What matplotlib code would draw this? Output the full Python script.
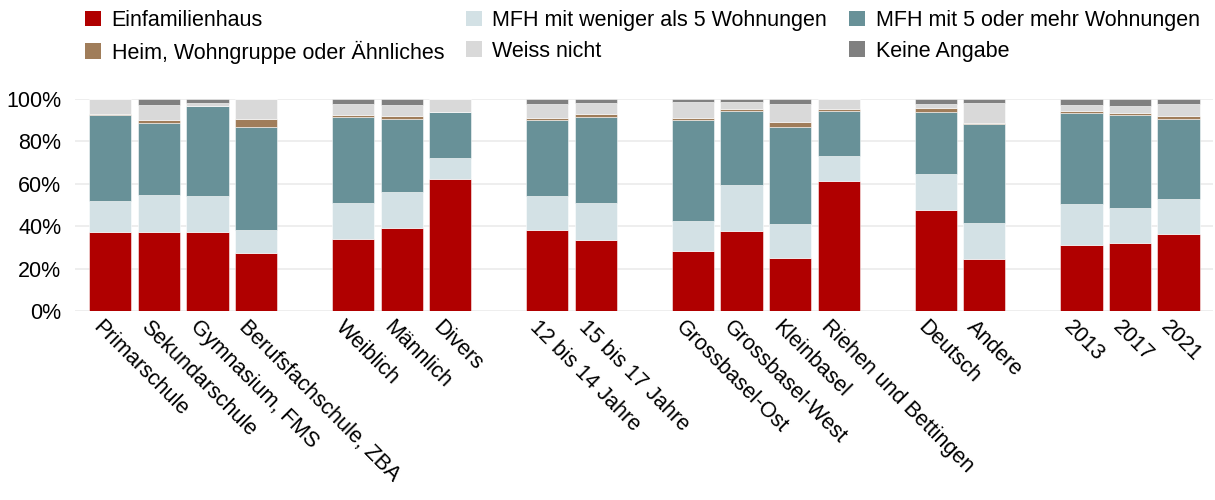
import numpy as np
import matplotlib
matplotlib.use('Agg')
import matplotlib.pyplot as plt
import matplotlib.transforms as mtransforms
from matplotlib.patches import Patch

plt.rcParams['font.family'] = ['Liberation Sans', 'DejaVu Sans']

categories = ['Primarschule', 'Sekundarschule', 'Gymnasium, FMS', 'Berufsfachschule, ZBA',
              'Weiblich', 'Männlich', 'Divers',
              '12 bis 14 Jahre', '15 bis 17 Jahre',
              'Grossbasel-Ost', 'Grossbasel-West', 'Kleinbasel', 'Riehen und Bettingen',
              'Deutsch', 'Andere',
              '2013', '2017', '2021']
# slot position of each bar (empty slots separate the groups)
slots = [0, 1, 2, 3, 5, 6, 7, 9, 10, 12, 13, 14, 15, 17, 18, 20, 21, 22]

efh = [37.1, 37.2, 37.2, 27.4, 34.1, 39.1, 62.3, 38.3, 33.4, 28.4, 37.9, 25.1, 61.5, 47.6, 24.4, 30.9, 32.3, 36.1]
mfh_small = [14.8, 17.5, 17.1, 10.8, 16.8, 17.1, 10.1, 16.0, 17.4, 14.0, 21.7, 15.9, 11.7, 17.1, 16.9, 19.6, 16.3, 16.7]
mfh_big = [40.4, 34.1, 42.2, 48.7, 40.6, 34.2, 21.6, 35.8, 40.7, 47.5, 34.6, 45.9, 21.0, 29.0, 46.7, 42.9, 43.8, 37.9]
heim = [0.8, 1.4, 0.0, 3.8, 0.9, 1.7, 0.0, 0.9, 1.6, 1.3, 1.1, 2.2, 1.1, 2.0, 0.8, 0.8, 0.8, 1.4]
weiss = [6.9, 6.8, 1.8, 9.3, 5.2, 5.2, 6.0, 6.5, 5.0, 7.2, 3.1, 8.4, 4.7, 2.1, 9.5, 3.1, 3.6, 5.5]
keine = [0.0, 3.0, 1.7, 0.0, 2.4, 2.7, 0.0, 2.5, 1.9, 1.6, 1.6, 2.5, 0.0, 2.2, 1.7, 2.7, 3.2, 2.4]

series = [('Einfamilienhaus', efh, '#B00000'),
          ('MFH mit weniger als 5 Wohnungen', mfh_small, '#D3E1E5'),
          ('MFH mit 5 oder mehr Wohnungen', mfh_big, '#689198'),
          ('Heim, Wohngruppe oder Ähnliches', heim, '#A07D5A'),
          ('Weiss nicht', weiss, '#D9D9D9'),
          ('Keine Angabe', keine, '#808080')]

fig = plt.figure(figsize=(12.15, 5), dpi=100)
ax = fig.add_axes([0.062, 0.378, 0.936, 0.424])

x = np.array(slots)
bottom = np.zeros(len(categories))
for name, vals, col in series:
    v = np.array(vals) / 100
    ax.bar(x, v, bottom=bottom, width=0.87, color=col, edgecolor=(1, 1, 1, 0.6),
           linewidth=0.6, zorder=2)
    bottom += v

ax.set_xlim(-0.72, 22.7)
ax.set_ylim(0, 1.0)
ax.set_yticks(np.linspace(0, 1, 6))
ax.set_yticklabels([f'{int(t)}%' for t in np.linspace(0, 100, 6)], fontsize=15.5)
ax.yaxis.grid(True, color='#EBEBEB', linewidth=1.2, zorder=0)
ax.set_axisbelow(True)
ax.set_xticks(x)
ax.set_xticklabels(categories, rotation=-45, ha='left', va='top',
                   rotation_mode='anchor', fontsize=15.5)
ax.tick_params(axis='x', length=0, pad=4)
ax.tick_params(axis='y', length=0, pad=10)
shift = mtransforms.ScaledTranslation(-7 / 100, 0, fig.dpi_scale_trans)
for lab in ax.get_xticklabels():
    lab.set_transform(lab.get_transform() + shift)
for s in ax.spines.values():
    s.set_visible(False)

# legend laid out row-wise: reorder for column-first filling
order = [0, 3, 1, 4, 2, 5]
handles = [Patch(facecolor=series[i][2], edgecolor='none') for i in order]
labels = [series[i][0] for i in order]
fig.legend(handles, labels, ncol=3, loc='upper left', bbox_to_anchor=(0.059, 1.006),
           frameon=False, fontsize=15.5, handlelength=0.75, handleheight=0.75,
           handletextpad=0.5, columnspacing=1.0, labelspacing=0.45, borderaxespad=0.2)

fig.savefig('out.png', dpi=100)
